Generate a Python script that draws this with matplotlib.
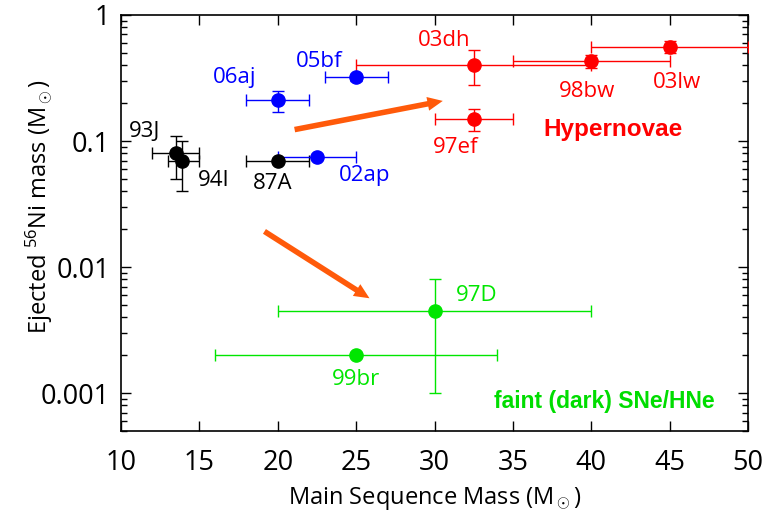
import matplotlib
matplotlib.use('Agg')
import matplotlib.pyplot as plt
import numpy as np

plt.rcParams['font.family'] = ['Open Sans', 'DejaVu Sans']
plt.rcParams['mathtext.fontset'] = 'custom'
plt.rcParams['mathtext.rm'] = 'Open Sans'
plt.rcParams['mathtext.it'] = 'Open Sans:italic'

# normal SNe (black)
names_k = ['93J', '94I', '87A']
mass_k = [13.5, 13.9, 20]
ni_k = [0.08, 0.07, 0.07]
xlo_k = [12, 13, 18]
xhi_k = [15, 15, 22]
ylo_k = [0.05, 0.04, 0.07]
yhi_k = [0.11, 0.10, 0.07]

# blue
names_b = ['02ap', '06aj', '05bf']
mass_b = [22.5, 20, 25]
ni_b = [0.075, 0.21, 0.32]
xlo_b = [20, 18, 23]
xhi_b = [25, 22, 27]
ylo_b = [0.075, 0.17, 0.30]
yhi_b = [0.075, 0.25, 0.34]

# hypernovae (red)
names_r = ['03dh', '97ef', '98bw', '03lw']
mass_r = [32.5, 32.5, 40, 45]
ni_r = [0.40, 0.15, 0.43, 0.56]
xlo_r = [25, 30, 35, 40]
xhi_r = [40, 35, 45, 50]
ylo_r = [0.28, 0.12, 0.38, 0.50]
yhi_r = [0.53, 0.18, 0.48, 0.62]

# faint SNe (green)
names_g = ['97D', '99br']
mass_g = [30, 25]
ni_g = [0.0045, 0.002]
xlo_g = [20, 16]
xhi_g = [40, 34]
ylo_g = [0.001, 0.002]
yhi_g = [0.008, 0.002]

fig = plt.figure(figsize=(7.68, 5.16), dpi=100)
ax = fig.add_axes([0.1576, 0.1647, 0.8164, 0.8063])

def group(x, y, xlo, xhi, ylo, yhi, color):
    x = np.array(x); y = np.array(y)
    xerr = [x - np.array(xlo), np.array(xhi) - x]
    yerr = [y - np.array(ylo), np.array(yhi) - y]
    ax.errorbar(x, y, xerr=xerr, yerr=yerr, fmt='o', color=color, ms=9.5,
                elinewidth=1, capsize=4, capthick=1, zorder=3)

green = '#00e600'
group(mass_k, ni_k, xlo_k, xhi_k, ylo_k, yhi_k, 'black')
group(mass_b, ni_b, xlo_b, xhi_b, ylo_b, yhi_b, 'blue')
group(mass_r, ni_r, xlo_r, xhi_r, ylo_r, yhi_r, 'red')
group(mass_g, ni_g, xlo_g, xhi_g, ylo_g, yhi_g, green)

fs = 16
lab = dict(fontsize=fs, ha='center', va='center')
ax.text(11.53, 0.120, '93J', color='black', **lab)
ax.text(15.93, 0.0484, '94I', color='black', **lab)
ax.text(19.7, 0.0459, '87A', color='black', **lab)
ax.text(25.57, 0.053, '02ap', color='blue', **lab)
ax.text(17.27, 0.319, '06aj', color='blue', **lab)
ax.text(22.63, 0.427, '05bf', color='blue', **lab)
ax.text(30.6, 0.624, '03dh', color='red', **lab)
ax.text(31.37, 0.088, '97ef', color='red', **lab)
ax.text(39.73, 0.248, '98bw', color='red', **lab)
ax.text(45.47, 0.292, '03lw', color='red', **lab)
ax.text(41.4, 0.124, 'Hypernovae', ha='center', va='center', color='red',
        fontsize=17.5, fontweight='bold', family=['Liberation Sans'])
ax.text(32.71, 0.00591, '97D', color=green, **lab)
ax.text(24.99, 0.00129, '99br', color=green, **lab)
ax.text(40.8, 0.00085, 'faint (dark) SNe/HNe', ha='center', va='center', color='#00dd00',
        fontsize=16.5, fontweight='bold', family=['Liberation Sans'])

# arrows
arrow = dict(arrowstyle='simple,head_width=1.0,head_length=1.1,tail_width=0.4',
             color='#ff5a0a', lw=0)
ax.annotate('', xy=(30.7, 0.21), xytext=(20.9, 0.122), arrowprops=arrow)
ax.annotate('', xy=(26.0, 0.0055), xytext=(19.0, 0.0197), arrowprops=arrow)

ax.set_yscale('log')
ax.set_xlim(10, 50)
ax.set_ylim(0.0005, 1)
ax.set_xticks(np.arange(10, 51, 5))
ax.set_yticks([0.001, 0.01, 0.1, 1])
ax.set_yticklabels(['0.001', '0.01', '0.1', '1'])
ax.tick_params(which='both', direction='in', top=True, right=True, labelsize=19.5)
ax.tick_params(which='major', length=7, width=1)
ax.tick_params(which='minor', length=4, width=1)
ax.tick_params(axis='x', pad=13)
ax.tick_params(axis='y', pad=8)
ax.set_xlabel(r'Main Sequence Mass (M$_\odot$)', fontsize=17, labelpad=6)
ax.set_ylabel(r'Ejected $^{56}$Ni mass (M$_\odot$)', fontsize=17)
ax.yaxis.set_label_coords(-0.106, 0.54)
for s in ax.spines.values():
    s.set_linewidth(1.2)

fig.savefig('out.png', dpi=100)
